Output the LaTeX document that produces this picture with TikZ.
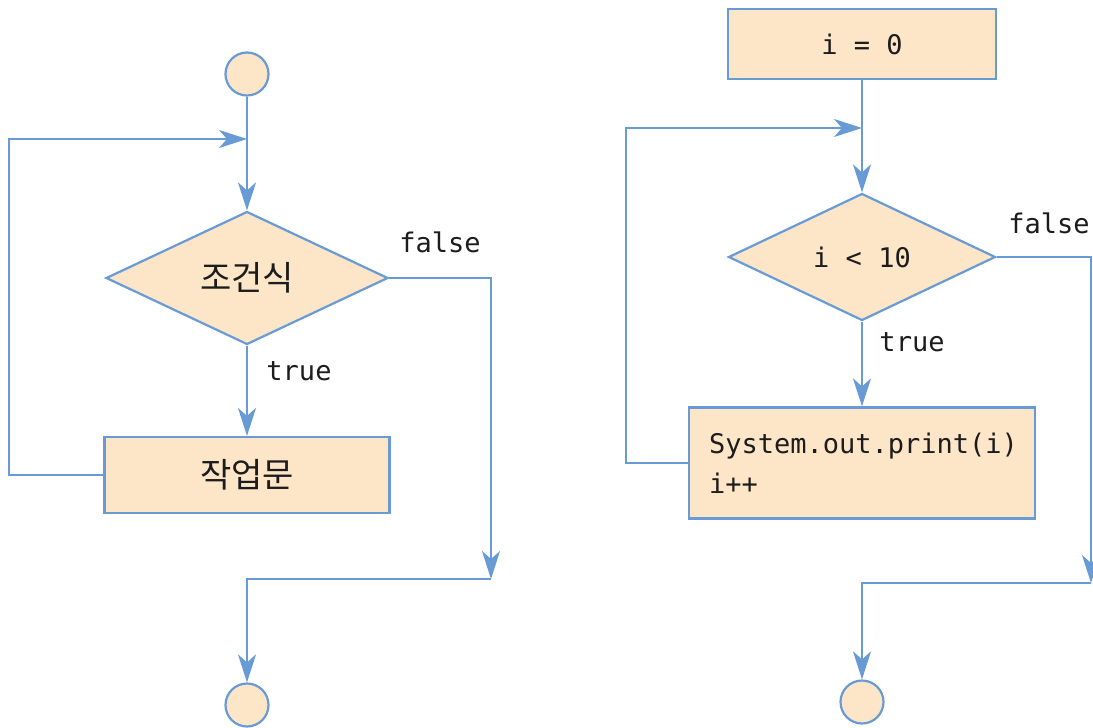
\documentclass[tikz,border=0pt]{standalone}
\usepackage{fontspec}
\setmonofont{DejaVu Sans Mono}
\newfontfamily\hangulFont{Noto Sans CJK KR}
\usepackage{tikz}
\usetikzlibrary{shapes.geometric, arrows.meta}
\definecolor{lineColor}{RGB}{104,155,214}
\definecolor{boxColor}{RGB}{253,229,200}
\definecolor{textColor}{RGB}{28,28,28}
\tikzstyle{flowPlane} = [x = 1pt, y = -1pt, every node/.style={text=textColor}]
\tikzstyle{flowLine} = [color=lineColor, line width=2.2pt]
\tikzstyle{flowArrow} = [flowLine, -{Stealth[length=28pt, width=18pt, inset=8pt]}]
\tikzstyle{shapeStyle} = [draw=lineColor, fill=boxColor, line width=2.2pt, inner sep=0pt]
\tikzstyle{terminalStyle} = [shapeStyle, circle, minimum size=43pt]
\tikzstyle{boxStyle} = [shapeStyle, rectangle]
\tikzstyle{decisionStyle} = [shapeStyle, diamond]
\tikzstyle{codeText} = [font=\fontsize{27}{40}\selectfont\ttfamily]
\tikzstyle{hangulText} = [font=\fontsize{34}{40}\selectfont\hangulFont]
\newcommand{\terminal}[3]{\node [terminalStyle] (#1) at (#2, #3) {};}
\newcommand{\branchLabel}[4]{\node [codeText] (#1) at (#2, #3) {#4};}

\begin{document}
\begin{tikzpicture}[flowPlane]
          \useasboundingbox (0,0) rectangle (1093,728);

          % left: generic loop
          \terminal{startA}{247}{74}
          \node [decisionStyle, hangulText, minimum width=282pt, minimum height=133pt] (condA) at (247,278) {조건식};
          \node [boxStyle, hangulText, minimum width=285pt, minimum height=76pt] (workA) at (247,475) {작업문};
          \terminal{endA}{247}{705}
          \coordinate (loopA) at (247,139);
          \coordinate (joinA) at (491,579);
          \branchLabel{falseA}{440}{242}{false}
          \branchLabel{trueA}{299}{371}{true}

          \draw [flowArrow] (startA) -- (condA.north);
          \draw [flowArrow] (workA.west) -- (9,475) |- (loopA);
          \draw [flowArrow] (condA.south) -- (workA.north);
          \draw [flowArrow] (condA.east) -| (joinA);
          \draw [flowArrow] (joinA) -| (endA.north);

          % right: counting loop
          \node [boxStyle, codeText, minimum width=268pt, minimum height=70pt] (initB) at (862,44) {i = 0};
          \node [decisionStyle, codeText, minimum width=267pt, minimum height=127pt] (condB) at (862,257) {i < 10};
          \node [boxStyle, codeText, align=left, text width=306pt, inner xsep=20pt, minimum height=111pt] (bodyB) at (862,463) {System.out.print(i)\\i++};
          \terminal{endB}{862}{702}
          \coordinate (loopB) at (862,128);
          \coordinate (joinB) at (1091,583);
          \branchLabel{falseB}{1049}{223}{false}
          \branchLabel{trueB}{912}{342}{true}

          \draw [flowArrow] (initB) -- (condB.north);
          \draw [flowArrow] (bodyB.west) -- (626,463) |- (loopB);
          \draw [flowArrow] (condB.south) -- (bodyB.north);
          \draw [flowArrow] (condB.east) -| (joinB);
          \draw [flowArrow] (joinB) -| (endB.north);
        \end{tikzpicture}
\end{document}
